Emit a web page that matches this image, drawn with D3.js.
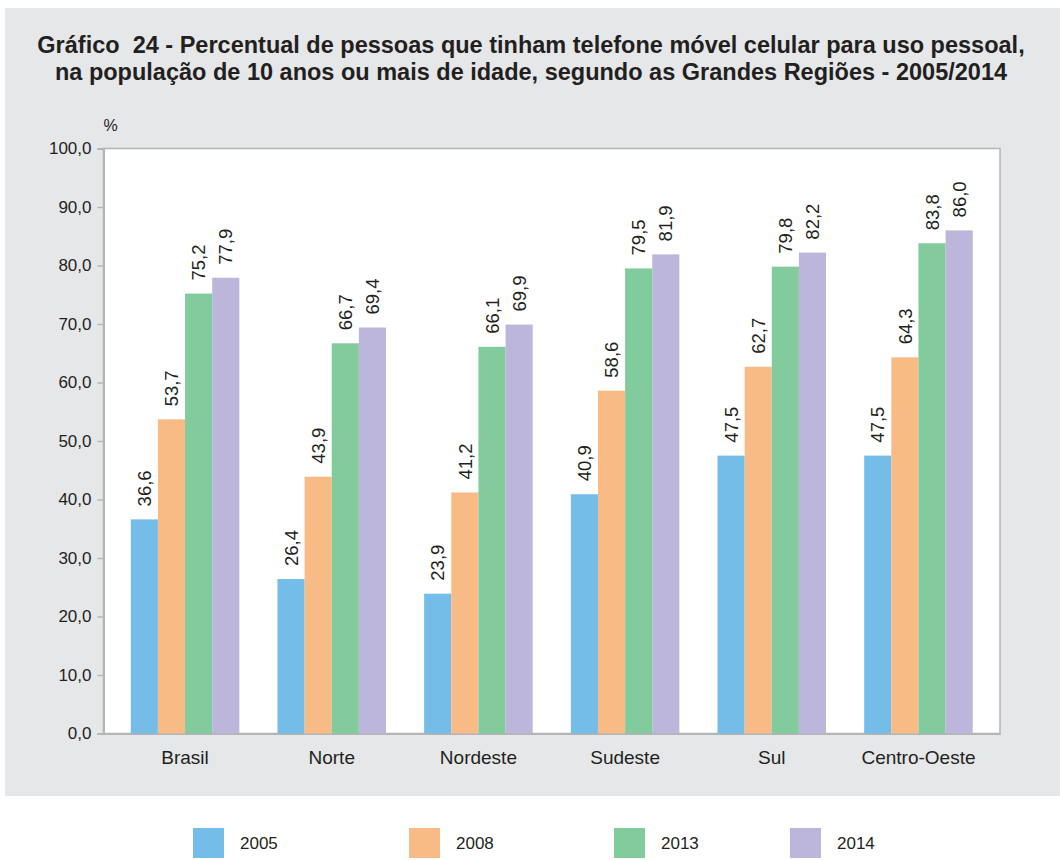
<!DOCTYPE html>
<html>
<head>
<meta charset="utf-8">
<script src="https://cdn.jsdelivr.net/npm/d3@7"></script>
<style>
  body { margin: 0; background: #fff; }
  svg { display: block; font-family: "Liberation Sans", Arial, sans-serif; }
</style>
</head>
<body>
<svg id="chart" width="1060" height="860"></svg>
<script>
// data
const regions = ['Brasil', 'Norte', 'Nordeste', 'Sudeste', 'Sul', 'Centro-Oeste']
const years = ['2005', '2008', '2013', '2014']
const v2005 = [36.6, 26.4, 23.9, 40.9, 47.5, 47.5]
const v2008 = [53.7, 43.9, 41.2, 58.6, 62.7, 64.3]
const v2013 = [75.2, 66.7, 66.1, 79.5, 79.8, 83.8]
const v2014 = [77.9, 69.4, 69.9, 81.9, 82.2, 86.0]
const yTicks = [0, 10, 20, 30, 40, 50, 60, 70, 80, 90, 100]
const colors = ['#74bde8', '#f9bb85', '#82cb9c', '#bbb6da']

const series = [v2005, v2008, v2013, v2014]
const rows = regions.map((r, i) => ({
  region: r,
  values: years.map((y, j) => ({ year: y, value: series[j][i] }))
}))

const ptBR = d3.formatLocale({ decimal: ',', thousands: '.', grouping: [3], currency: ['R$', ''] })
const fmt = ptBR.format('.1f')

const textColor = '#231f20'
const axisColor = '#b3b4b6'
const plot = { left: 103.5, right: 1000, top: 148.5, bottom: 733.5 }

const svg = d3.select('#chart')

// grey panel
svg.append('rect')
  .attr('x', 5).attr('y', 8)
  .attr('width', 1055).attr('height', 788)
  .attr('fill', '#e6e7e9')

// title
const title = svg.append('text')
  .attr('text-anchor', 'middle')
  .attr('font-weight', 'bold')
  .attr('font-size', 23.5)
  .attr('fill', textColor)
  .style('white-space', 'pre')
title.append('tspan').attr('x', 531).attr('y', 53)
  .text('Gráfico  24 - Percentual de pessoas que tinham telefone móvel celular para uso pessoal,')
title.append('tspan').attr('x', 531).attr('y', 80)
  .text('na população de 10 anos ou mais de idade, segundo as Grandes Regiões - 2005/2014')

// plot background
svg.append('rect')
  .attr('x', plot.left).attr('y', plot.top)
  .attr('width', plot.right - plot.left).attr('height', plot.bottom - plot.top)
  .attr('fill', '#fff')
  .attr('stroke', axisColor)
  .attr('stroke-width', 1.5)

const x0 = d3.scaleBand()
  .domain(regions)
  .range([plot.left, plot.right])
  .paddingInner(0.26)
  .paddingOuter(0.186)

const x1 = d3.scaleBand()
  .domain(years)
  .range([0, x0.bandwidth()])

const y = d3.scaleLinear()
  .domain([0, 100])
  .range([plot.bottom, plot.top])

const color = d3.scaleOrdinal().domain(years).range(colors)

// y axis
const yAxis = svg.append('g')
  .attr('transform', `translate(${plot.left}, 0)`)
  .call(d3.axisLeft(y).tickValues(yTicks).tickSize(6).tickPadding(6).tickFormat(fmt))
yAxis.select('.domain').attr('stroke', axisColor).attr('stroke-width', 2)
yAxis.selectAll('.tick line').attr('stroke', axisColor).attr('stroke-width', 1.5)
yAxis.selectAll('.tick text')
  .attr('font-size', 17)
  .attr('fill', textColor)
  .attr('font-family', '"Liberation Sans", Arial, sans-serif')

svg.append('text')
  .attr('x', plot.left)
  .attr('y', 131)
  .attr('font-size', 16)
  .attr('fill', textColor)
  .text('%')

// x axis
const xAxis = svg.append('g')
  .attr('transform', `translate(0, ${plot.bottom})`)
  .call(d3.axisBottom(x0).tickSize(0).tickPadding(17))
xAxis.select('.domain').attr('stroke', axisColor).attr('stroke-width', 2)
xAxis.selectAll('.tick text')
  .attr('font-size', 19)
  .attr('fill', textColor)
  .attr('font-family', '"Liberation Sans", Arial, sans-serif')

// bars
const group = svg.append('g')
  .selectAll('g')
  .data(rows)
  .join('g')
  .attr('transform', d => `translate(${x0(d.region)}, 0)`)

group.selectAll('rect')
  .data(d => d.values)
  .join('rect')
  .attr('x', d => x1(d.year))
  .attr('width', x1.bandwidth())
  .attr('y', d => y(d.value))
  .attr('height', d => y(0) - y(d.value))
  .attr('fill', d => color(d.year))

group.selectAll('text')
  .data(d => d.values)
  .join('text')
  .attr('transform', d => `translate(${x1(d.year) + x1.bandwidth() / 2}, ${y(d.value) - 13}) rotate(-90)`)
  .attr('dy', '0.36em')
  .attr('text-anchor', 'start')
  .attr('font-size', 18.5)
  .attr('fill', textColor)
  .text(d => fmt(d.value))

// legend
const legendX = [193, 409, 614, 790]
const legend = svg.append('g')
  .selectAll('g')
  .data(years)
  .join('g')
  .attr('transform', (d, i) => `translate(${legendX[i]}, 828)`)

legend.append('rect')
  .attr('width', 31)
  .attr('height', 30)
  .attr('fill', d => color(d))

legend.append('text')
  .attr('x', 47)
  .attr('y', 21)
  .attr('font-size', 17)
  .attr('fill', textColor)
  .text(d => d)
</script>
</body>
</html>
